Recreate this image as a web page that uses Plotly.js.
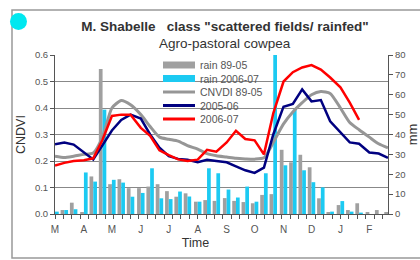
<!DOCTYPE html>
<html>
<head>
<meta charset="utf-8">
<script src="https://cdn.plot.ly/plotly-3.0.1.min.js"></script>
<style>html,body{margin:0;padding:0;background:#fff;}#chart{width:420px;height:260px;}</style>
</head>
<body>
<div id="chart"></div>
<script>
// ---- data ----
const dekadDates = [
  '2006-03-01','2006-03-11','2006-03-21','2006-04-01','2006-04-11','2006-04-21',
  '2006-05-01','2006-05-11','2006-05-21','2006-06-01','2006-06-11','2006-06-21',
  '2006-07-01','2006-07-11','2006-07-21','2006-08-01','2006-08-11','2006-08-21',
  '2006-09-01','2006-09-11','2006-09-21','2006-10-01','2006-10-11','2006-10-21',
  '2006-11-01','2006-11-11','2006-11-21','2006-12-01','2006-12-11','2006-12-21',
  '2007-01-01','2007-01-11','2007-01-21','2007-02-01','2007-02-11','2007-02-21'
];
const rain8905 = [1,2,5.7,1,18.9,73,15,17.5,13,13,13.8,15,11.5,8.7,10.4,6.2,7,6.6,8,6.6,6,5.4,9.6,10,32.3,26,29.8,23.5,7.9,1,4.5,2,5.4,1,2,1];
const rain0607 = [1.2,2,2.4,20.9,16.3,52.5,17.2,15.8,8.7,10.6,23,7.9,7.5,11.3,8.8,6.2,23,20.5,12.3,8.3,13.8,6.2,20.5,85,24.5,52.5,22,16,13.4,1.2,6.5,1.2,0.7,0,0,0];
const cndvi8905 = [.218,.213,.218,.225,.23,.29,.40,.428,.412,.375,.33,.29,.282,.275,.258,.245,.228,.22,.215,.21,.208,.207,.212,.27,.34,.385,.42,.45,.462,.455,.40,.345,.318,.29,.265,.25];
const cndvi0506 = [.263,.27,.262,.232,.206,.26,.315,.355,.375,.36,.30,.25,.218,.208,.205,.195,.205,.2,.195,.18,.165,.155,.175,.30,.405,.415,.47,.425,.43,.35,.31,.27,.265,.232,.228,.212];
const cndvi0607 = [.183,.193,.2,.203,.21,.28,.37,.375,.375,.325,.295,.24,.222,.206,.2,.205,.242,.235,.27,.314,.283,.278,.225,.38,.50,.535,.553,.562,.545,.515,.478,.42,.355,null,null,null];
const monthTickDates = ['2006-03-01','2006-04-01','2006-05-01','2006-06-01','2006-07-01','2006-08-01','2006-09-01','2006-10-01','2006-11-01','2006-12-01','2007-01-01','2007-02-01'];
const monthLabels = ['M','A','M','J','J','A','S','O','N','D','J','F'];
const legendNames = ['rain 89-05','rain 2006-07','CNVDI 89-05','2005-06','2006-07'];

// ---- layout geometry ----
const W = 420, H = 260, L = 55, R = 388, T = 55, B = 214;
const px = x => (x - L) / (R - L);
const py = y => (B - y) / (B - T);
const FONT = 'Liberation Sans, Arial, sans-serif';
const GRAY_BAR = '#a0a0a0', CYAN = '#1ccaf2', GRAY_LINE = '#969696', NAVY = '#000080', RED = '#ff0000';

const traces = [
  {type:'bar', x:dekadDates, y:rain8905, name:legendNames[0], marker:{color:GRAY_BAR}, yaxis:'y', showlegend:false},
  {type:'bar', x:dekadDates, y:rain0607, name:legendNames[1], marker:{color:CYAN}, yaxis:'y', showlegend:false, cliponaxis:false},
  {type:'scatter', mode:'lines', x:dekadDates, y:cndvi8905, name:legendNames[2], line:{color:GRAY_LINE, width:3, shape:'spline', smoothing:0.6}, yaxis:'y2', showlegend:false},
  {type:'scatter', mode:'lines', x:dekadDates, y:cndvi0506, name:legendNames[3], line:{color:NAVY, width:2.5}, yaxis:'y2', showlegend:false},
  {type:'scatter', mode:'lines', x:dekadDates, y:cndvi0607, name:legendNames[4], line:{color:RED, width:2.5}, yaxis:'y2', showlegend:false, connectgaps:false}
];

// manual legend
const legendY = [65, 78.5, 92, 105.5, 119];
const shapes = [
  {type:'rect', xref:'paper', yref:'paper', x0:px(12), x1:px(440), y0:py(258), y1:py(10), line:{color:'#999', width:1.5}, fillcolor:'rgba(0,0,0,0)', layer:'below'},
  {type:'circle', xref:'paper', yref:'paper', x0:px(10), x1:px(27), y0:py(30), y1:py(13), line:{width:0}, fillcolor:'#00e8f0', layer:'above'},
  {type:'rect', xref:'paper', yref:'paper', x0:px(147), x1:px(273), y0:py(125), y1:py(57), line:{width:0}, fillcolor:'#ffffff', layer:'between'},
  {type:'rect', xref:'paper', yref:'paper', x0:px(163), x1:px(195), y0:py(legendY[0]+3.5), y1:py(legendY[0]-3.5), line:{width:0}, fillcolor:GRAY_BAR, layer:'above'},
  {type:'rect', xref:'paper', yref:'paper', x0:px(163), x1:px(195), y0:py(legendY[1]+3.5), y1:py(legendY[1]-3.5), line:{width:0}, fillcolor:CYAN, layer:'above'},
  {type:'line', xref:'paper', yref:'paper', x0:px(163), x1:px(195), y0:py(legendY[2]), y1:py(legendY[2]), line:{color:GRAY_LINE, width:3}, layer:'above'},
  {type:'line', xref:'paper', yref:'paper', x0:px(163), x1:px(195), y0:py(legendY[3]), y1:py(legendY[3]), line:{color:NAVY, width:3}, layer:'above'},
  {type:'line', xref:'paper', yref:'paper', x0:px(163), x1:px(195), y0:py(legendY[4]), y1:py(legendY[4]), line:{color:RED, width:3}, layer:'above'}
];
const annotations = legendNames.map((n, i) => ({
  xref:'paper', yref:'paper', x:px(198), y:py(legendY[i]), xanchor:'left', yanchor:'middle',
  text:n, showarrow:false, font:{family:FONT, size:10.5, color:'#555'}
}));
annotations.push({xref:'paper', yref:'paper', x:px(225), y:py(43), xanchor:'center', yanchor:'middle',
  text:'Agro-pastoral cowpea', showarrow:false, font:{family:FONT, size:13.5, color:'#333'}});

const layout = {
  width:W, height:H,
  margin:{l:L, r:W-R, t:T, b:H-B, pad:0},
  paper_bgcolor:'#fff', plot_bgcolor:'rgba(0,0,0,0)',
  font:{family:FONT, color:'#444'},
  title:{text:'<b>M. Shabelle\u00a0\u00a0 class "scattered fields/ rainfed"</b>', x:px(225), xanchor:'center', y:1-26/H, yanchor:'middle', xref:'paper',
         font:{family:FONT, size:13.5, color:'#333'}},
  barmode:'group', bargap:0.2, bargroupgap:0,
  xaxis:{type:'date', range:['2006-03-01','2007-02-21'], tickmode:'array', tickvals:monthTickDates, ticktext:monthLabels,
         ticks:'', showgrid:false, showline:true, linecolor:'#555', linewidth:1, zeroline:false,
         tickfont:{family:FONT, size:10, color:'#555'}, ticklabelstandoff:6,
         minor:{ticks:'outside', ticklen:4, tickcolor:'#555', tickmode:'linear', tick0:'2006-03-01', dtick:9*86400000, showgrid:false},
         title:{text:'Time\u00a0\u00a0\u00a0\u00a0\u00a0\u00a0\u00a0\u00a0\u00a0\u00a0\u00a0\u00a0\u00a0\u00a0\u00a0\u200b', font:{family:FONT, size:12.5, color:'#333'}, standoff:4}},
  yaxis:{range:[0,80], side:'right', dtick:10, ticks:'outside', ticklen:4, tickcolor:'#555', showline:true, linecolor:'#555', linewidth:1,
         showgrid:false, zeroline:false, tickfont:{family:FONT, size:9.5, color:'#555'},
         title:{text:'mm', font:{family:FONT, size:13, color:'#333'}, standoff:8}},
  yaxis2:{range:[0,0.6], overlaying:'y', side:'left', dtick:0.1, tickformat:'.1f', ticks:'outside', ticklen:4, tickcolor:'#555',
          showline:true, linecolor:'#555', linewidth:1, showgrid:true, gridcolor:'#888', gridwidth:1, zeroline:false,
          tickfont:{family:FONT, size:9.5, color:'#555'},
          title:{text:'CNDVI', font:{family:FONT, size:12.5, color:'#333'}, standoff:6}},
  shapes:shapes, annotations:annotations, showlegend:false
};
Plotly.newPlot('chart', traces, layout, {staticPlot:true, displayModeBar:false});
</script>
</body>
</html>
